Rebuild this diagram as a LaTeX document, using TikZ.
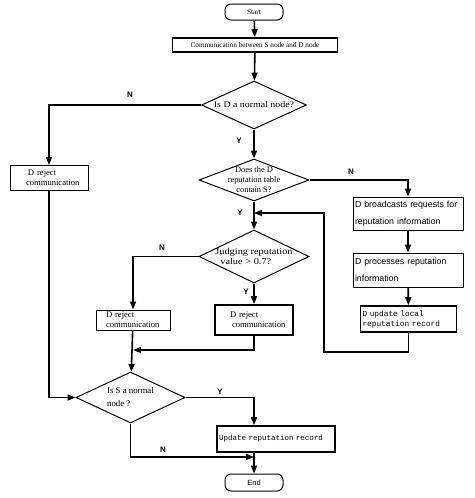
\documentclass[tikz,border=0pt]{standalone}
\usepackage{fontspec}
\setmainfont{Liberation Serif}
\setsansfont{Liberation Sans}
\setmonofont{Liberation Mono}
\newfontfamily\wideserif[FakeStretch=1.15]{Liberation Serif}
\usetikzlibrary{shapes.geometric,arrows.meta}

\begin{document}
\begin{tikzpicture}[x=1pt,y=-1pt,thick]
    % `term' is used for Start and End.
    % `box' and `sbox' are the plain steps, `mbox' the typewriter ones.
    % `decision' is used for the diamonds.
    \tikzstyle{term} = [draw,line width=1pt,rounded corners=6pt,inner sep=0pt,font=\fontsize{7.4}{8}\selectfont]
    \tikzstyle{box} = [draw,line width=1pt,inner sep=2pt,align=left,font=\fontsize{8.6}{10}\selectfont]
    \tikzstyle{sbox} = [box,font=\sffamily\fontsize{8.8}{16.5}\selectfont]
    \tikzstyle{mbox} = [box,line width=1.6pt,font=\ttfamily\fontsize{7.8}{10}\selectfont]
    \tikzstyle{decision} = [draw,line width=1pt,shape=diamond,aspect=2.6,inner sep=-8pt,align=left,font=\fontsize{8.4}{10}\selectfont]
    \tikzstyle{flow} = [line width=1.6pt,-{Triangle[length=8pt,width=6pt]}]
    \tikzstyle{yn} = [font=\sffamily\bfseries\fontsize{8}{8}\selectfont]
    %
    \useasboundingbox (0,0) rectangle (474,498);
    %
    \node[term,minimum width=58,minimum height=16] (start) at (254,12) {Start};
    \node[box,line width=1.6pt,inner sep=0pt,minimum width=165,minimum height=14,font=\fontsize{7.2}{8}\selectfont] (comm) at (255,45) {Communication between S node and D node};
    \node[decision,minimum width=105,minimum height=48,inner sep=-12pt,font=\wideserif\fontsize{8.6}{10}\selectfont] (isD) at (254,105) {Is D a normal node?};
    \node[box,text width=74,minimum height=25] (rejA) at (49,178) {\hspace{16pt}D reject\\\hspace{14pt}communication};
    \node[decision,align=center,minimum width=110,minimum height=42] (table) at (254,180) {Does the D\\reputation table\\contain S?};
    \node[sbox,text width=106,minimum height=33] (bcast) at (408,213.5) {D broadcasts requests for\\reputation information};
    \node[sbox,text width=106,minimum height=34] (proc) at (408,270) {D processes reputation\\information};
    \node[mbox,text width=92,minimum height=26] (upd) at (408.5,319) {D update local\\reputation record};
    \node[decision,minimum width=110,minimum height=53,inner sep=-12pt,font=\wideserif\fontsize{9}{10.5}\selectfont] (judge) at (254,256.5) {Judging reputation\\\hspace{5pt}value > 0.7?};
    \node[box,text width=70,minimum height=20] (rejB) at (133,320) {\hspace{8pt}D reject\\\hspace{8pt}communication};
    \node[box,line width=1.6pt,text width=74,minimum height=30] (rejC) at (254,320) {\hspace{13pt}D reject\\\hspace{15pt}communication};
    \node[decision,minimum width=109,minimum height=51,font=\fontsize{8.8}{13}\selectfont] (isS) at (130.5,397.5) {Is S a normal\\node ?};
    \node[mbox,text width=114,minimum height=26,font=\ttfamily\fontsize{7.5}{9}\selectfont] (rec) at (276,439) {Update reputation record};
    \node[term,font=\sffamily\fontsize{7.5}{8}\selectfont,minimum width=58,minimum height=17] (end) at (254,482.5) {End};
    %
    % Helper points for the bends.
    \coordinate (axis) at (254,0);
    \coordinate (back) at (254,213);
    \coordinate (loopL) at (324,352);
    \coordinate (mergeA) at (133,350);
    \coordinate (mergeB) at (254,457);
    %
    % Draw lines.
    \draw[flow] (start) -- (comm);
    \draw[flow] (comm) -- (isD);
    \draw[flow] (isD.west) -| (rejA);
    \draw[flow] (isD) -- (table);
    \draw[flow] (table.east) -| (bcast);
    \draw[flow] (bcast) -- (proc);
    \draw[flow] (proc) -- (upd);
    \draw[flow] (upd.south) |- (loopL) |- (back);
    \draw[flow] (table) -- (judge);
    \draw[flow] (judge.west) -| (rejB);
    \draw[flow] (judge) -- (rejC);
    \draw[flow] (rejC.south) |- (mergeA);
    \draw[flow] (rejB) -- (isS);
    \draw[flow] (rejA.south) |- (isS.west);
    \draw[flow] (isS.east) -| (axis |- rec.north);
    \draw[flow] (isS.south) |- (mergeB);
    \draw[flow] (axis |- rec.south) -- (end);
    %
    % Branch labels.
    \node[yn] (nD) at (130,95) {N};
    \node[yn] (yD) at (239,141) {Y};
    \node[yn] (nT) at (351,172) {N};
    \node[yn] (yT) at (240,213) {Y};
    \node[yn] (nJ) at (162,248) {N};
    \node[yn] (yJ) at (246,292) {Y};
    \node[yn] (yS) at (220,392) {Y};
    \node[yn] (nS) at (163,450) {N};
\end{tikzpicture}
\end{document}
